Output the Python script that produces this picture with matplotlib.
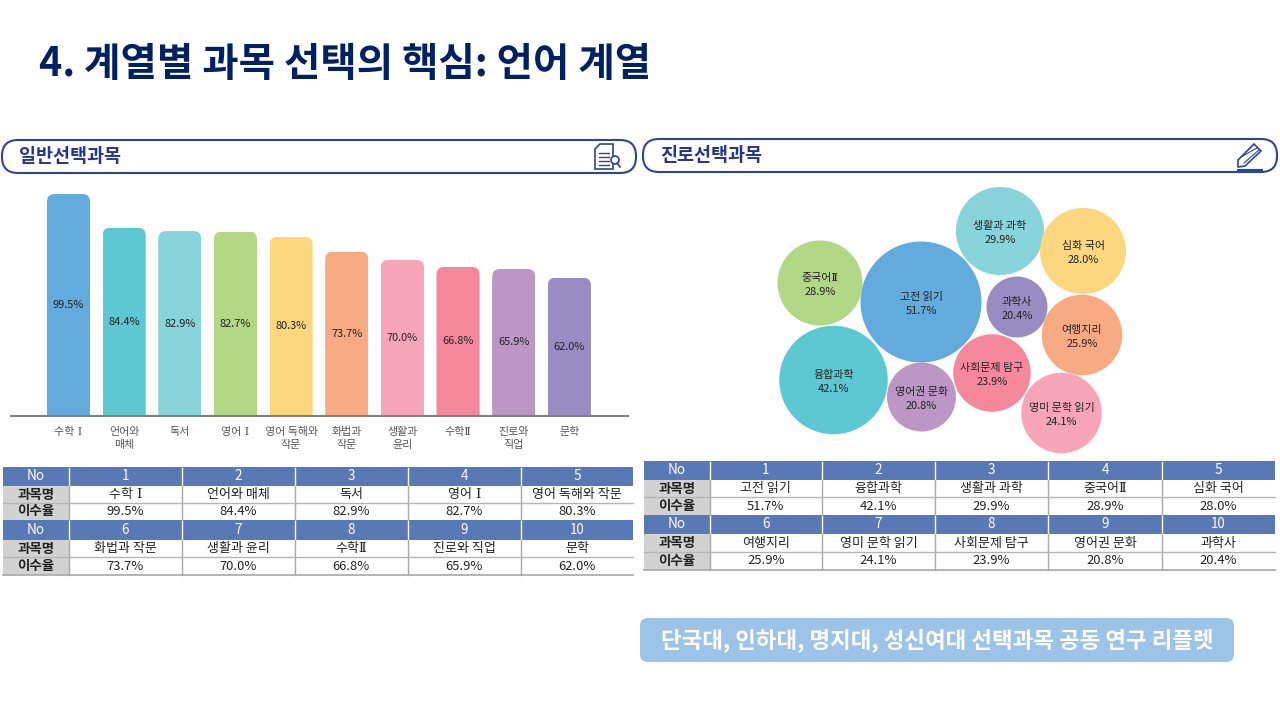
import matplotlib
matplotlib.use("Agg")
import matplotlib.pyplot as plt
from matplotlib.patches import Circle, FancyBboxPatch, Polygon, Rectangle

plt.rcParams['font.family'] = ['Noto Sans CJK KR', 'DejaVu Sans']

# data
general_names = ['수학 Ⅰ', '언어와 매체', '독서', '영어 Ⅰ', '영어 독해와 작문',
                 '화법과 작문', '생활과 윤리', '수학Ⅱ', '진로와 직업', '문학']
general_ticks = ['수학 Ⅰ', '언어와\n매체', '독서', '영어 Ⅰ', '영어 독해와\n작문',
                 '화법과\n작문', '생활과\n윤리', '수학Ⅱ', '진로와\n직업', '문학']
general_values = [99.5, 84.4, 82.9, 82.7, 80.3, 73.7, 70.0, 66.8, 65.9, 62.0]
career_names = ['고전 읽기', '융합과학', '생활과 과학', '중국어Ⅱ', '심화 국어',
                '여행지리', '영미 문학 읽기', '사회문제 탐구', '영어권 문화', '과학사']
career_values = [51.7, 42.1, 29.9, 28.9, 28.0, 25.9, 24.1, 23.9, 20.8, 20.4]

# bubble layout in pixels, same order as career_names
bubble_x = [921, 833.5, 1000, 820, 1083, 1082, 1061.5, 992, 921.5, 1017]
bubble_y = [302, 380, 231, 283, 251, 335, 413, 373, 397, 307]
bubble_d = [121, 108.5, 88, 85, 86, 80.5, 80.5, 77.5, 69, 61]

colors = ['#62abdc', '#5ec8d2', '#89d3da', '#b2d785', '#fdd780',
          '#f8ab82', '#f7a6ba', '#f6889d', '#bc97c5', '#988dc3']
NAVY = '#002060'
LINE_BLUE = '#2f4496'
TEXT = '#222222'
SERIF_MIX = ['DejaVu Serif', 'Noto Sans CJK KR']
SANS = ['Noto Sans CJK KR', 'DejaVu Sans']


def px(size):
    # размер шрифта из пикселей в пункты
    return size * 0.72


def name_family(name):
    # римские цифры в оригинале с засечками
    return SERIF_MIX if ('Ⅰ' in name or 'Ⅱ' in name) else SANS


fig = plt.figure(figsize=(12.8, 7.2), dpi=100, facecolor='white')

# overlay axes in image pixels
page = fig.add_axes([0, 0, 1, 1])
page.set_xlim(0, 1280)
page.set_ylim(720, 0)
page.axis('off')

page.text(39, 65, '4. 계열별 과목 선택의 핵심: 언어 계열', color=NAVY, fontsize=px(39.5),
          fontweight='black', va='center', ha='left')


def draw_heading(x0, x1, y0, y1, label):
    page.add_patch(FancyBboxPatch((x0, y0), x1 - x0, y1 - y0, boxstyle='round,pad=0,rounding_size=16',
                                  fc='white', ec=LINE_BLUE, lw=1.5))
    page.text(x0 + 17, (y0 + y1) / 2, label, color='#24358c', fontsize=px(18.5), fontweight='bold',
              va='center', ha='left')


draw_heading(2, 636, 140, 173, '일반선택과목')
draw_heading(643, 1277, 139, 172, '진로선택과목')

# document icon
page.add_patch(Polygon([(600, 144), (613, 144), (613, 169), (595, 169), (595, 149)], closed=True,
                       fc='white', ec=LINE_BLUE, lw=1.2))
for ly in [153, 157, 161, 165]:
    page.plot([599, 609], [ly, ly], color=LINE_BLUE, lw=1)
page.add_patch(Circle((615, 160), 4, fc='white', ec=LINE_BLUE, lw=1.2))
page.plot([617, 620], [163, 167], color=LINE_BLUE, lw=1.2)

# pencil icon
page.add_patch(Polygon([(1238, 160), (1254, 144), (1261, 151), (1245, 166), (1238, 167)], closed=True,
                       fc='white', ec=LINE_BLUE, lw=1.2))
page.plot([1241, 1257], [157, 148], color=LINE_BLUE, lw=0.8)
page.plot([1244, 1259], [163, 150], color=LINE_BLUE, lw=0.8)
page.plot([1238, 1262], [170, 170], color=LINE_BLUE, lw=1.5)

# bar chart
ax = fig.add_axes([11 / 1280, 1 - 416 / 720, 617 / 1280, 230 / 720])
ax.patch.set_alpha(0)
x_pos = list(range(len(general_values)))
bars = ax.bar(x_pos, general_values, width=0.775, color=colors)
ax.set_xlim(-1.033, 10.054)
ax.set_ylim(0, 103.1)
for bar in bars:
    clip = FancyBboxPatch((bar.get_x(), -10), bar.get_width(), bar.get_height() + 10,
                          boxstyle='round,pad=0,rounding_size=0.14', mutation_aspect=24.9,
                          transform=ax.transData)
    bar.set_clip_path(clip)
ax.bar_label(bars, fmt='%.1f%%', label_type='center', fontsize=px(11), fontweight='medium', color='#222222')
ax.set_xticks(x_pos)
ax.set_xticklabels(general_ticks, fontsize=px(11), color='#555555', linespacing=1.4)
for lab, name in zip(ax.get_xticklabels(), general_ticks):
    lab.set_family(name_family(name))
ax.tick_params(axis='x', length=0, pad=8)
ax.set_yticks([])
for side in ['top', 'left', 'right']:
    ax.spines[side].set_visible(False)
ax.spines['bottom'].set_color('#808080')
ax.spines['bottom'].set_linewidth(1.5)

# bubbles
for i in range(len(career_values)):
    page.add_patch(Circle((bubble_x[i], bubble_y[i]), bubble_d[i] / 2, fc=colors[i], ec='none'))
    page.text(bubble_x[i], bubble_y[i] - 5, career_names[i], fontsize=px(11), color='#222222',
              ha='center', va='center', family=name_family(career_names[i]))
    page.text(bubble_x[i], bubble_y[i] + 9, '%.1f%%' % career_values[i], fontsize=px(11), color='#222222',
              ha='center', va='center')


def draw_table(col_x, row_y, names, values):
    # две группы строк: No / 과목명 / 이수율
    for g in range(2):
        y_no, y_name, y_rate, y_end = row_y[g * 3:g * 3 + 4]
        page.add_patch(Rectangle((col_x[0], y_no), col_x[-1] - col_x[0], y_name - y_no, fc='#5878b6', ec='none'))
        page.add_patch(Rectangle((col_x[0], y_name), col_x[1] - col_x[0], y_end - y_name, fc='#d2d2d2', ec='none'))
        page.text((col_x[0] + col_x[1]) / 2, (y_no + y_name) / 2, 'No', color='white', fontsize=px(13.5),
                  ha='center', va='center')
        page.text((col_x[0] + col_x[1]) / 2, (y_name + y_rate) / 2, '과목명', color='#222222', fontsize=px(13.5),
                  fontweight='bold', ha='center', va='center')
        page.text((col_x[0] + col_x[1]) / 2, (y_rate + y_end) / 2, '이수율', color='#222222', fontsize=px(13.5),
                  fontweight='bold', ha='center', va='center')
        for c in range(5):
            k = g * 5 + c
            cx = (col_x[c + 1] + col_x[c + 2]) / 2
            page.text(cx, (y_no + y_name) / 2, str(k + 1), color='white', fontsize=px(13.5), ha='center', va='center')
            page.text(cx, (y_name + y_rate) / 2, names[k], color=TEXT, fontsize=px(13), ha='center', va='center',
                      family=name_family(names[k]))
            page.text(cx, (y_rate + y_end) / 2, '%.1f%%' % values[k], color=TEXT, fontsize=px(13),
                      ha='center', va='center')
        for c in range(1, 6):
            page.plot([col_x[c], col_x[c]], [y_no + 1, y_name - 1], color='white', lw=1)
            page.plot([col_x[c], col_x[c]], [y_name, y_end], color='#a8a8a8', lw=1)
        page.plot([col_x[0], col_x[-1]], [y_rate, y_rate], color='#b5b5b5', lw=1)
    page.plot([col_x[0], col_x[-1]], [row_y[-1], row_y[-1]], color='#a8a8a8', lw=1.2)


draw_table([3, 69, 181.5, 294.5, 407.5, 521, 633], [467, 486, 503, 520, 540, 557, 575], general_names, general_values)
draw_table([644, 709.5, 822, 935, 1048, 1162, 1275], [461, 480, 497, 515, 534, 552, 570], career_names, career_values)

# source box
page.add_patch(FancyBboxPatch((640, 618), 594, 44, boxstyle='round,pad=0,rounding_size=8', fc='#9dc3e6', ec='none'))
page.text(937, 640, '단국대, 인하대, 명지대, 성신여대 선택과목 공동 연구 리플렛', color='white', fontsize=px(22.4),
          fontweight='bold', ha='center', va='center')

fig.savefig('out.png', dpi=100)
